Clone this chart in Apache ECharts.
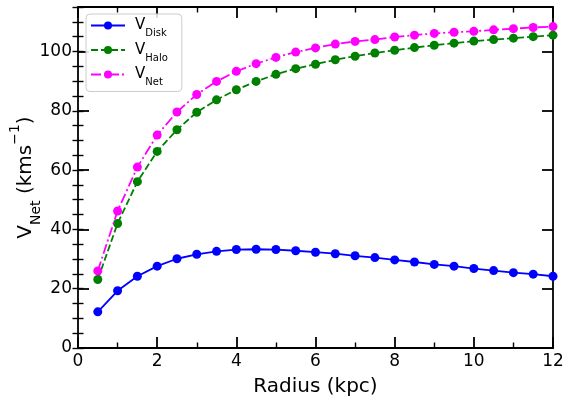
<!DOCTYPE html>
<html><head><meta charset="utf-8">
<script src="https://cdn.jsdelivr.net/npm/echarts@6/dist/echarts.min.js"></script>
<style>html,body{margin:0;padding:0;background:#fff}#c{width:573px;height:401px}</style>
</head><body><div id="c"></div>
<script>
var radius = [0.5,1,1.5,2,2.5,3,3.5,4,4.5,5,5.5,6,6.5,7,7.5,8,8.5,9,9.5,10,10.5,11,11.5,12];
var vDisk = [12.2,19.3,24.2,27.6,30.1,31.6,32.6,33.2,33.3,33.2,32.8,32.3,31.8,31.1,30.5,29.7,29.0,28.2,27.6,26.8,26.1,25.4,24.9,24.2];
var vHalo = [23.1,42.0,56.1,66.3,73.6,79.5,83.7,87.1,89.9,92.3,94.2,95.7,97.2,98.4,99.5,100.4,101.3,102.1,102.8,103.5,104.0,104.5,105.0,105.5];
var vNet = [26.0,46.2,61.0,71.8,79.6,85.5,89.9,93.3,95.9,98.0,99.8,101.2,102.5,103.4,104.0,104.9,105.5,106.1,106.5,106.8,107.3,107.7,108.1,108.4];
var seriesNames = ['Disk','Halo','Net'];
var xTicks = [0,2,4,6,8,10,12];
var yTicks = [0,20,40,60,80,100];

var FONT = 'DejaVu Sans';
function pairs(ys){ return radius.map(function(x,i){ return [x, ys[i]]; }); }
var axisLine = {show:true, onZero:false, lineStyle:{color:'#000', width:1.8}};
function xAx(pos, labels){
  return {type:'value', position:pos, min:0, max:12, interval:2,
    axisLine:axisLine, splitLine:{show:false},
    axisTick:{show:true, inside:true, length:11, lineStyle:{color:'#000', width:1.8}},
    minorTick:{show:true, splitNumber:2, length:5.5, lineStyle:{color:'#000', width:1.4}},
    axisLabel:{show:labels, margin:5, color:'#000', fontFamily:FONT, fontSize:17,
      formatter:function(v){ return xTicks.indexOf(v)>=0 ? String(v) : ''; }}};
}
function yAxMajor(pos, labels){
  return {type:'value', position:pos, min:0, max:115, interval:20,
    axisLine:axisLine, splitLine:{show:false},
    axisTick:{show:true, inside:true, length:11, lineStyle:{color:'#000', width:1.8}},
    axisLabel:{show:labels, margin:6, color:'#000', fontFamily:FONT, fontSize:17, showMaxLabel:false,
      formatter:function(v){ return yTicks.indexOf(v)>=0 ? String(v) : ''; }}};
}
function yAxMinor(pos){
  return {type:'value', position:pos, min:0, max:115, interval:5,
    axisLine:{show:false}, splitLine:{show:false}, axisLabel:{show:false},
    axisTick:{show:true, inside:true, length:5.5, lineStyle:{color:'#000', width:1.4}}};
}
var xa = [xAx('bottom', true), xAx('top', false)];
xa[0].name = 'Radius (kpc)';
xa[0].nameLocation = 'middle';
xa[0].nameGap = 29;
xa[0].nameMoveOverlap = false;
xa[0].nameTextStyle = {color:'#000', fontFamily:FONT, fontSize:20};
var ya = [yAxMajor('left', true), yAxMinor('left'), yAxMajor('right', false), yAxMinor('right')];
ya[0].name = '{v|V}{sub|Net}{t| (kms}{sup|−1}{t|)}';
ya[0].nameLocation = 'middle';
ya[0].nameGap = 40;
ya[0].nameRotate = 90;
ya[0].nameMoveOverlap = false;
ya[0].nameTextStyle = {color:'#000', fontFamily:FONT, fontSize:20,
  rich:{
    v:{fontFamily:FONT, fontSize:20, color:'#000', lineHeight:24, verticalAlign:'middle'},
    t:{fontFamily:FONT, fontSize:20, color:'#000', lineHeight:24, verticalAlign:'middle'},
    sub:{fontFamily:FONT, fontSize:14, color:'#000', lineHeight:14, verticalAlign:'bottom', padding:[0,0,-5,0]},
    sup:{fontFamily:FONT, fontSize:14, color:'#000', lineHeight:14, verticalAlign:'top', padding:[-6,0,0,0]}
  }};

var colors = ['#0000ff','#008000','#ff00ff'];
var dashes = ['solid',[7,3],[10,3,2,3]];
var datas = [vDisk, vHalo, vNet];
var series = seriesNames.map(function(n,i){
  return {name:n, type:'line', xAxisIndex:0, yAxisIndex:0, data:pairs(datas[i]),
    symbol:'circle', symbolSize:9, showSymbol:true, clip:true,
    itemStyle:{color:colors[i]},
    lineStyle:{color:colors[i], width:1.8, type:dashes[i]},
    z: 3+i, animation:false};
});

var chart = echarts.init(document.getElementById('c'), null, {renderer:'canvas'});
chart.setOption({
  animation:false,
  backgroundColor:'#fff',
  grid:{left:78, right:20, top:7, bottom:53, containLabel:false, outerBoundsMode:'none'},
  xAxis: xa,
  yAxis: ya,
  legend:{orient:'vertical', left:86, top:14, data:seriesNames,
    backgroundColor:'rgba(255,255,255,0.85)', borderColor:'#cccccc', borderWidth:1, borderRadius:4,
    padding:[4,14,4,4], itemWidth:34, itemHeight:10, itemGap:4,
    formatter:function(n){ return '{v|V}{sub|'+n+'}'; },
    textStyle:{color:'#000', fontFamily:FONT, fontSize:15,
      rich:{v:{fontFamily:FONT, fontSize:15, color:'#000', padding:[0,0,0,5], lineHeight:16},
            sub:{fontFamily:FONT, fontSize:10, color:'#000', verticalAlign:'bottom', lineHeight:10, padding:[0,0,-5,0]}}}},
  series: series
});
</script></body></html>
